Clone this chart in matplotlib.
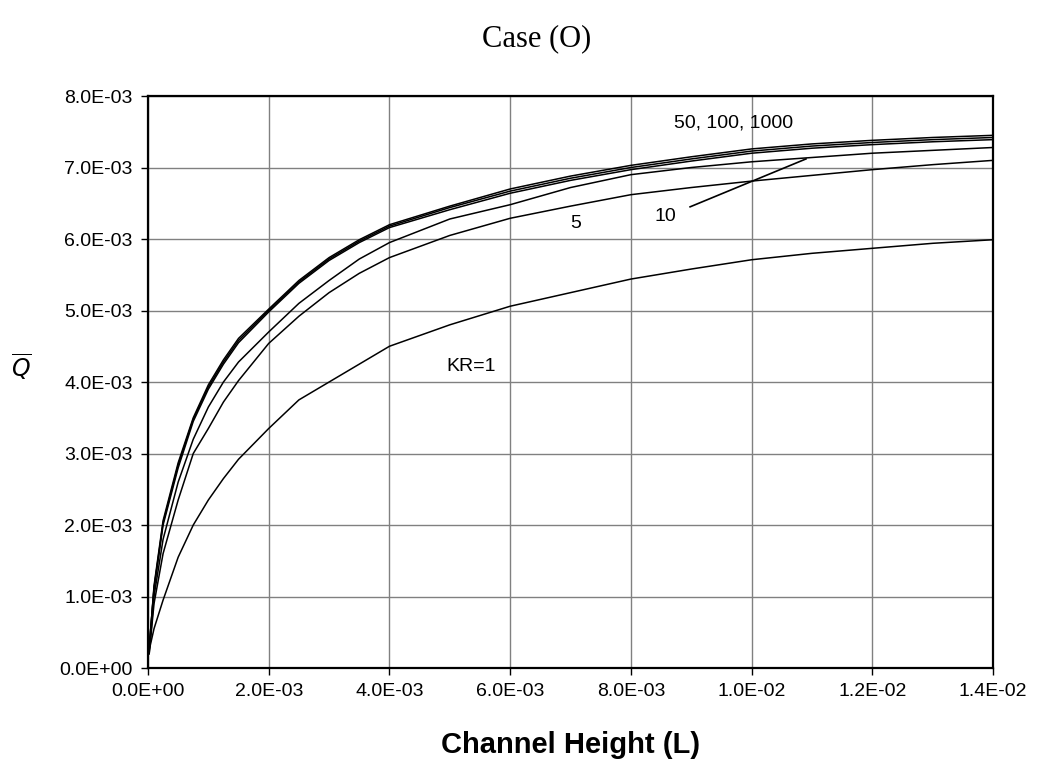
import matplotlib
matplotlib.use("Agg")
import matplotlib.pyplot as plt
from matplotlib.ticker import FuncFormatter, MultipleLocator

# channel height samples (units of 1e-3)
height = [0.02, 0.1, 0.25, 0.5, 0.75, 1.0, 1.25, 1.5, 2.0, 2.5, 3.0, 3.5, 4.0,
          5.0, 6.0, 7.0, 8.0, 9.0, 10.0, 11.0, 12.0, 13.0, 14.0]

# Q-bar for each KR (units of 1e-3)
q_kr1 = [0.25, 0.55, 0.95, 1.55, 2.0, 2.35, 2.65, 2.92, 3.35, 3.75, 4.0, 4.25, 4.50,
         4.80, 5.06, 5.25, 5.44, 5.58, 5.71, 5.80, 5.87, 5.94, 5.99]
q_kr5 = [0.2, 0.9, 1.6, 2.35, 3.0, 3.35, 3.72, 4.02, 4.54, 4.92, 5.25, 5.52, 5.74,
         6.05, 6.29, 6.46, 6.62, 6.72, 6.81, 6.89, 6.97, 7.04, 7.10]
q_kr10 = [0.2, 1.0, 1.8, 2.6, 3.2, 3.65, 4.0, 4.28, 4.70, 5.10, 5.42, 5.72, 5.95,
          6.28, 6.48, 6.72, 6.90, 7.00, 7.08, 7.14, 7.20, 7.24, 7.28]
q_kr50 = [0.3, 1.1, 2.0, 2.8, 3.45, 3.9, 4.25, 4.55, 4.98, 5.38, 5.70, 5.95, 6.16,
          6.41, 6.64, 6.82, 6.97, 7.09, 7.20, 7.27, 7.32, 7.36, 7.39]
q_kr100 = [0.28, 1.12, 2.03, 2.84, 3.48, 3.93, 4.28, 4.58, 5.00, 5.40, 5.72, 5.97, 6.18,
           6.44, 6.67, 6.85, 7.00, 7.12, 7.23, 7.30, 7.35, 7.39, 7.42]
q_kr1000 = [0.26, 1.15, 2.06, 2.87, 3.50, 3.96, 4.31, 4.61, 5.02, 5.42, 5.74, 5.99, 6.20,
            6.46, 6.70, 6.88, 7.03, 7.15, 7.26, 7.33, 7.38, 7.42, 7.45]

curves = [q_kr1, q_kr5, q_kr10, q_kr50, q_kr100, q_kr1000]

plt.rcParams['font.family'] = ['Liberation Sans', 'DejaVu Sans']

fig = plt.figure(figsize=(10.37, 7.73), dpi=100)
ax = fig.add_axes([0.1427, 0.1358, 0.815, 0.740])

x = [h * 1e-3 for h in height]
for q in curves:
    ax.plot(x, [v * 1e-3 for v in q], color='black', lw=1.1, zorder=3)

ax.set_xlim(0, 0.014)
ax.set_ylim(0, 0.008)
ax.xaxis.set_major_locator(MultipleLocator(0.002))
ax.yaxis.set_major_locator(MultipleLocator(0.001))
fmt = FuncFormatter(lambda v, pos: f"{v:.1E}")
ax.xaxis.set_major_formatter(fmt)
ax.yaxis.set_major_formatter(fmt)
ax.tick_params(direction='out', length=5, width=1, labelsize=14, colors='black', pad=6)
ax.grid(True, color='#808080', lw=1)
for s in ax.spines.values():
    s.set_linewidth(1.6)
    s.set_color('black')

# curve labels
ax.text(9.7e-3, 7.62e-3, '50, 100, 1000', fontsize=14, ha='center', va='center')
ax.text(7.08e-3, 6.22e-3, '5', fontsize=14, ha='center', va='center')
ax.text(8.57e-3, 6.32e-3, '10', fontsize=14, ha='center', va='center')
ax.plot([8.98e-3, 10.9e-3], [6.45e-3, 7.12e-3], color='black', lw=1.2)
ax.text(5.35e-3, 4.22e-3, 'KR=1', fontsize=14, ha='center', va='center')

ax.set_xlabel('Channel Height (L)', fontsize=21, fontweight='bold', labelpad=22)
fig.text(0.021, 0.525, r'$\overline{Q}$', fontsize=17, ha='center', va='center')
fig.text(0.517, 0.950, 'Case (O)', fontsize=22, ha='center', va='center',
         family='Liberation Serif')

fig.savefig('out.png', dpi=100)
